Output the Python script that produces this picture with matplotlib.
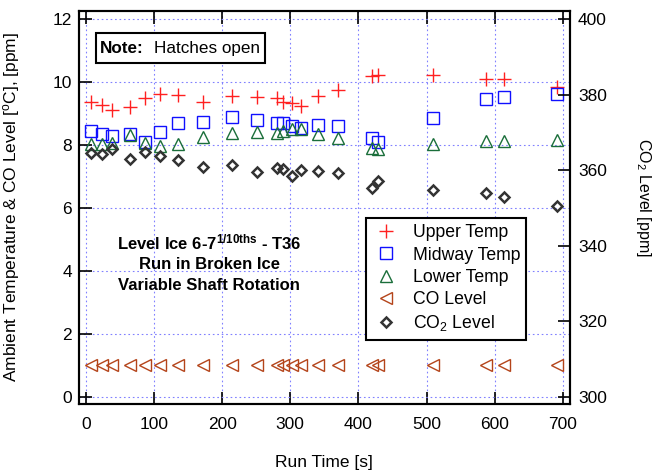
import matplotlib
matplotlib.use('Agg')
import matplotlib.pyplot as plt
from matplotlib.patches import Rectangle
import numpy as np

plt.rcParams['font.family'] = ['Liberation Sans', 'DejaVu Sans']
plt.rcParams['mathtext.fontset'] = 'custom'
plt.rcParams['mathtext.rm'] = 'Liberation Sans'
plt.rcParams['mathtext.it'] = 'Liberation Sans:italic'
plt.rcParams['mathtext.bf'] = 'Liberation Sans:bold'

# run times [s]
run_time = [8, 23, 39, 65, 87, 109, 135, 172, 215, 251, 280, 290, 303, 315,
            340, 370, 420, 429, 509, 587, 613, 691]

upper_temp = [9.38, 9.27, 9.12, 9.20, 9.51, 9.62, 9.59, 9.36, 9.56, 9.52, 9.49,
              9.38, 9.33, 9.25, 9.57, 9.75, 10.20, 10.22, 10.24, 10.10, 10.10, 9.84]
midway_temp = [8.45, 8.35, 8.29, 8.37, 8.11, 8.41, 8.71, 8.74, 8.88, 8.80, 8.71,
               8.69, 8.61, 8.55, 8.64, 8.62, 8.22, 8.11, 8.85, 9.46, 9.54, 9.62]
lower_temp = [8.03, 8.03, 8.08, 8.32, 8.08, 7.98, 8.03, 8.27, 8.39, 8.43, 8.39,
              8.46, 8.53, 8.53, 8.37, 8.22, 7.90, 7.87, 8.03, 8.13, 8.13, 8.16]
co_level = [1.0] * 22
co2_level = [364.6, 364.4, 365.6, 363.0, 364.8, 363.8, 362.8, 361.0, 361.3, 359.5,
             360.7, 360.3, 358.4, 360.1, 359.7, 359.4, 355.3, 357.3, 354.8, 354.1,
             352.9, 350.6]

x_ticks = np.arange(0, 701, 100)
y_ticks = np.arange(0, 13, 2)
y2_ticks = np.arange(300, 401, 20)

fig = plt.figure(figsize=(6.64, 4.71), dpi=100)
ax = fig.add_axes([0.119, 0.142, 0.739, 0.835])
ax2 = ax.twinx()

ylim = (-0.23, 12.27)
ax.set_xlim(-10, 710)
ax.set_ylim(*ylim)
# right axis: 300 ppm <-> 0, 400 ppm <-> 12
ax2.set_ylim(300 + ylim[0] / 0.12, 300 + ylim[1] / 0.12)

h1, = ax.plot(run_time, upper_temp, ls='none', marker='+', ms=10, mew=1.0,
              color='#ff2020', label='Upper Temp')
h2, = ax.plot(run_time, midway_temp, ls='none', marker='s', ms=8.5, mew=1.0,
              mfc='none', color='#1010ff', label='Midway Temp')
h3, = ax.plot(run_time, lower_temp, ls='none', marker='^', ms=8.5, mew=1.0,
              mfc='none', color='#1a6e3a', label='Lower Temp')
h4, = ax.plot(run_time, co_level, ls='none', marker='<', ms=8, mew=1.0,
              mfc='none', color='#b4441a', label='CO Level')
h5, = ax2.plot(run_time, co2_level, ls='none', marker='D', ms=5.5, mew=1.8,
               mfc='none', color='#333333', label='CO$_2$ Level')

ax.set_xticks(x_ticks)
ax.set_yticks(y_ticks)
ax2.set_yticks(y2_ticks)
ax.grid(True, color='#8080ff', ls=(0, (1.5, 2.5)), lw=0.8)
ax.tick_params(axis='x', direction='in', length=9, width=1.2, labelsize=12.5,
               top=True, pad=9)
ax.tick_params(axis='y', direction='in', length=9, width=1.2, labelsize=12.5, pad=5)
ax2.tick_params(direction='in', length=9, width=1.2, labelsize=12.5, pad=6)
for a in (ax, ax2):
    for s in a.spines.values():
        s.set_linewidth(1.5)

ax.set_xlabel('Run Time [s]', fontsize=12.5, labelpad=17)
ax.set_ylabel('Ambient Temperature & CO Level [$^{\\rm o}$C], [ppm]', fontsize=12.5)
ax.yaxis.set_label_coords(-0.117, 0.5)
ax2.set_ylabel('CO$_2$ Level [ppm]', fontsize=11.5, rotation=270)
ax2.yaxis.set_label_coords(1.17, 0.525)

# note box
ax2.add_patch(Rectangle((0.0346, 0.867), 0.344, 0.076, transform=ax.transAxes,
                        fc='white', ec='black', lw=1.5, zorder=4))
t_note = ax2.text(0.043, 0.905, 'Note:', transform=ax.transAxes, fontsize=12.3,
                  fontweight='bold', ha='left', va='center', zorder=5)
ax2.annotate('Hatches open', xy=(1, 0.5), xycoords=t_note, xytext=(7, 0),
             textcoords='offset points', fontsize=12.3, ha='left', va='center',
             zorder=5)

ax.text(0.265, 0.36, 'Level Ice 6-7$^{\\mathbf{1/10ths}}$ - T36\nRun in Broken Ice\nVariable Shaft Rotation',
        transform=ax.transAxes, fontsize=12, fontweight='bold', ha='center', va='center',
        linespacing=1.45)

leg = ax2.legend(handles=[h1, h2, h3, h4, h5], loc='upper left',
                 bbox_to_anchor=(0.5845, 0.473), fontsize=12.7, frameon=True,
                 fancybox=False, edgecolor='black', framealpha=1,
                 labelspacing=0.3, handletextpad=0.7, borderpad=0.35,
                 handlelength=1.6, borderaxespad=0)
leg.get_frame().set_linewidth(1.5)

fig.savefig('out.png', dpi=100)
